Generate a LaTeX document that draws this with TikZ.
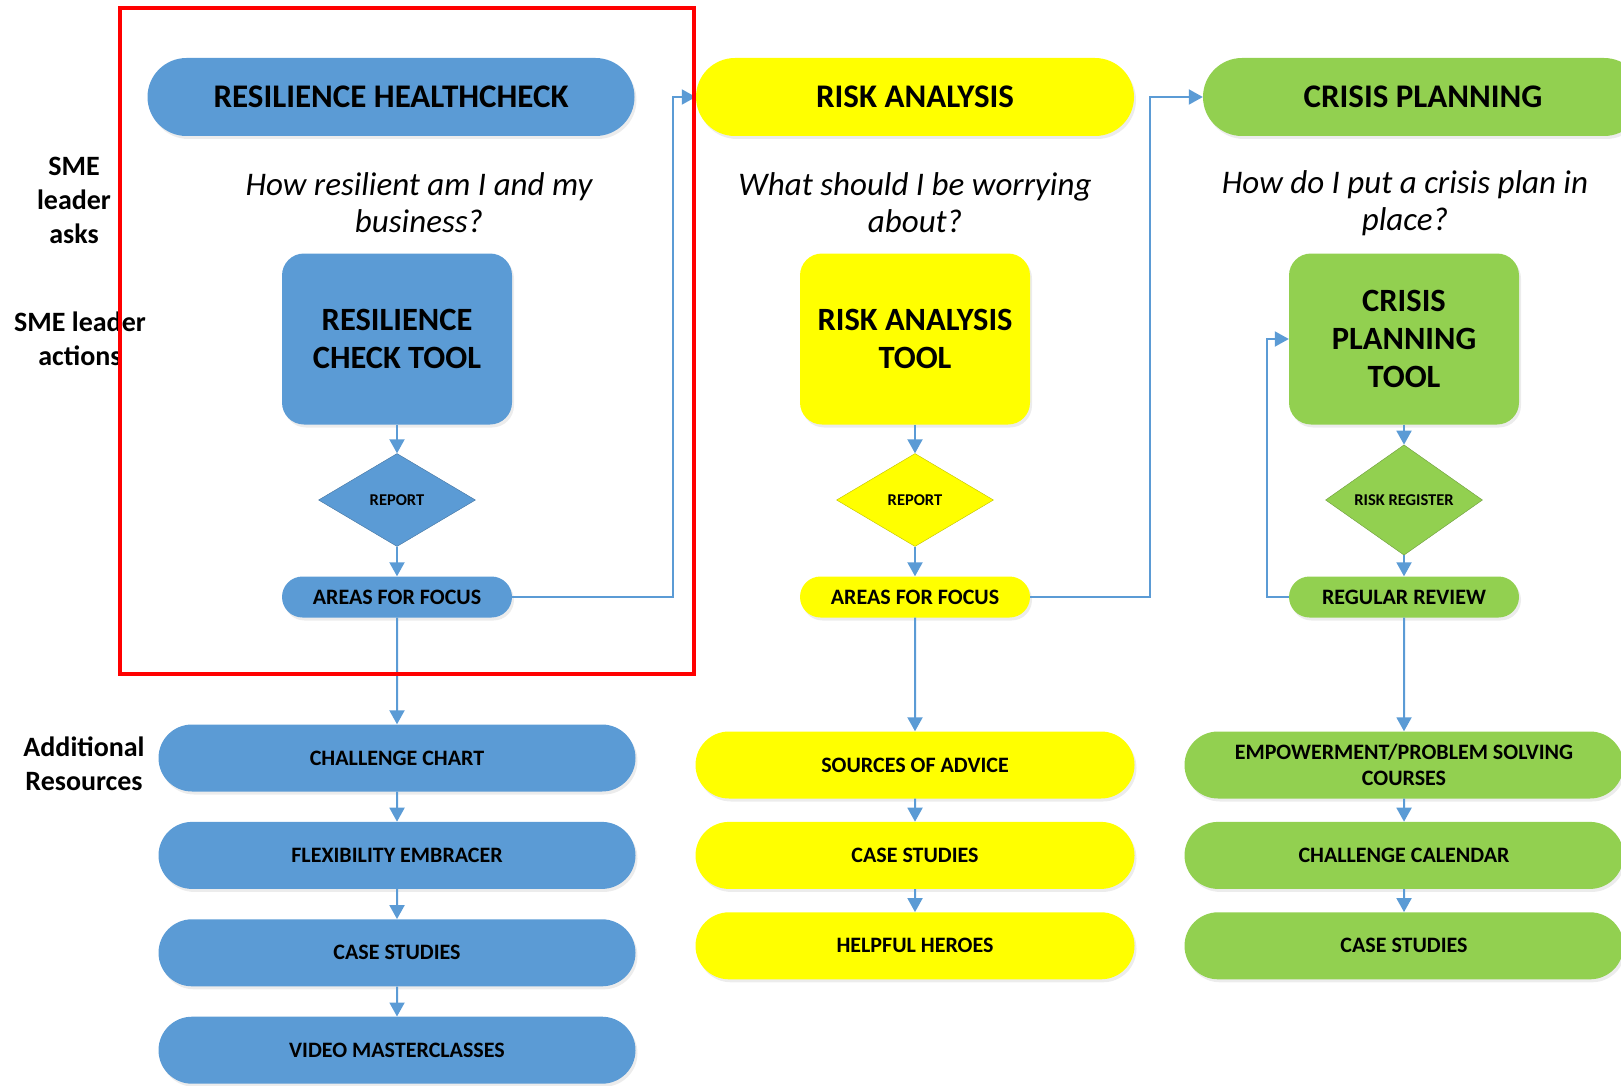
\documentclass[tikz,border=0pt]{standalone}
\usepackage{fontspec}
\setmainfont{Carlito}
\usetikzlibrary{positioning,shapes.misc,shapes.geometric,arrows.meta,shadows}
\definecolor{cblue}{HTML}{5B9BD5}
\definecolor{cyellow}{HTML}{FFFF00}
\definecolor{cgreen}{HTML}{92D050}

\begin{document}
\begin{tikzpicture}[x=1pt,y=-1pt,
    shade/.style={drop shadow={opacity=0.15,shadow xshift=2pt,shadow yshift=-3pt}},
    head/.style={rounded rectangle,minimum height=78pt,inner sep=0pt,shade,font=\fontsize{33}{38}\selectfont\bfseries},
    ques/.style={align=center,font=\fontsize{33}{37}\selectfont\itshape},
    tool/.style={rounded corners=22pt,minimum width=230pt,minimum height=171pt,inner sep=0pt,align=center,shade,font=\fontsize{32.5}{38}\selectfont\bfseries},
    dia/.style={diamond,minimum width=157pt,minimum height=93pt,inner sep=0pt,draw=#1!75!black,fill=#1,font=\fontsize{16.5}{19}\selectfont\bfseries},
    focus/.style={rounded rectangle,minimum width=230pt,minimum height=41pt,inner sep=0pt,shade,font=\fontsize{22}{26}\selectfont\bfseries},
    res/.style={rounded rectangle,minimum height=67pt,inner sep=0pt,align=center,shade,font=\fontsize{22}{26}\selectfont\bfseries},
    lbl/.style={align=center,font=\fontsize{28}{34}\selectfont\bfseries},
    arr/.style={cblue,line width=2pt,-{Triangle[width=15pt,length=14pt]}},
    node distance=30pt]
    \useasboundingbox (0,0) rectangle (1621,1086);
    \node[lbl] (ask) at (74,200) {SME\\leader\\asks};
    \node[lbl] (act) at (80,339) {SME leader\\actions};
    \node[lbl] (add) at (84,764) {Additional\\Resources};
    \node[head,fill=cblue,minimum width=487pt] (hc) at (391,97) {RESILIENCE HEALTHCHECK};
    \node[head,fill=cyellow,minimum width=438pt] (ra) at (915,97) {RISK ANALYSIS};
    \node[head,fill=cgreen,minimum width=440pt] (cp) at (1423,97) {CRISIS PLANNING};
    \node[ques] (q1) at (419,203) {How resilient am I and my\\business?};
    \node[ques] (q2) at (915,203) {What should I be worrying\\about?};
    \node[ques] (q3) at (1405,203) {How do I put a crisis plan in\\place?};
    \node[tool,fill=cblue] (t1) at (397,339) {RESILIENCE\\CHECK TOOL};
    \node[tool,fill=cyellow] (t2) at (915,339) {RISK ANALYSIS\\TOOL};
    \node[tool,fill=cgreen] (t3) at (1404,339) {CRISIS\\PLANNING\\TOOL};
    \node[dia=cblue] (d1) at (397,500) {REPORT};
    \node[dia=cyellow] (d2) at (915,500) {REPORT};
    \node[dia=cgreen] (d3) at (1404,500) {RISK REGISTER};
    \node[focus,fill=cblue] (f1) at (397,597) {AREAS FOR FOCUS};
    \node[focus,fill=cyellow] (f2) at (915,597) {AREAS FOR FOCUS};
    \node[focus,fill=cgreen] (f3) at (1404,597) {REGULAR REVIEW};
    \node[res,fill=cblue,minimum width=477pt] (r11) at (397,758) {CHALLENGE CHART};
    \node[res,fill=cblue,minimum width=477pt,below=of r11] (r12) {FLEXIBILITY EMBRACER};
    \node[res,fill=cblue,minimum width=477pt,below=of r12] (r13) {CASE STUDIES};
    \node[res,fill=cblue,minimum width=477pt,below=of r13] (r14) {VIDEO MASTERCLASSES};
    \node[res,fill=cyellow,minimum width=439pt] (r21) at (915,765) {SOURCES OF ADVICE};
    \node[res,fill=cyellow,minimum width=439pt,below=23pt of r21] (r22) {CASE STUDIES};
    \node[res,fill=cyellow,minimum width=439pt,below=23pt of r22] (r23) {HELPFUL HEROES};
    \node[res,fill=cgreen,minimum width=439pt] (r31) at (1404,765) {EMPOWERMENT/PROBLEM SOLVING\\COURSES};
    \node[res,fill=cgreen,minimum width=439pt,below=23pt of r31] (r32) {CHALLENGE CALENDAR};
    \node[res,fill=cgreen,minimum width=439pt,below=23pt of r32] (r33) {CASE STUDIES};
    \draw[arr] (t1) -- (d1);
    \draw[arr] (d1) -- (f1);
    \draw[arr] (t2) -- (d2);
    \draw[arr] (d2) -- (f2);
    \draw[arr] (t3) -- (d3);
    \draw[arr] (d3) -- (f3);
    \draw[arr] (f1.east) -- +(161,0) |- (ra.west);
    \draw[arr] (f2.east) -- +(120,0) |- (cp.west);
    \draw[arr] (f3.west) -- +(-22,0) |- (t3.west);
    \draw[arr] (f1) -- (r11);
    \draw[arr] (f2) -- (r21);
    \draw[arr] (f3) -- (r31);
    \draw[arr] (r11) -- (r12);
    \draw[arr] (r12) -- (r13);
    \draw[arr] (r13) -- (r14);
    \draw[arr] (r21) -- (r22);
    \draw[arr] (r22) -- (r23);
    \draw[arr] (r31) -- (r32);
    \draw[arr] (r32) -- (r33);
    \draw[red,line width=4pt] (120,8) rectangle (694,674);
\end{tikzpicture}
\end{document}
